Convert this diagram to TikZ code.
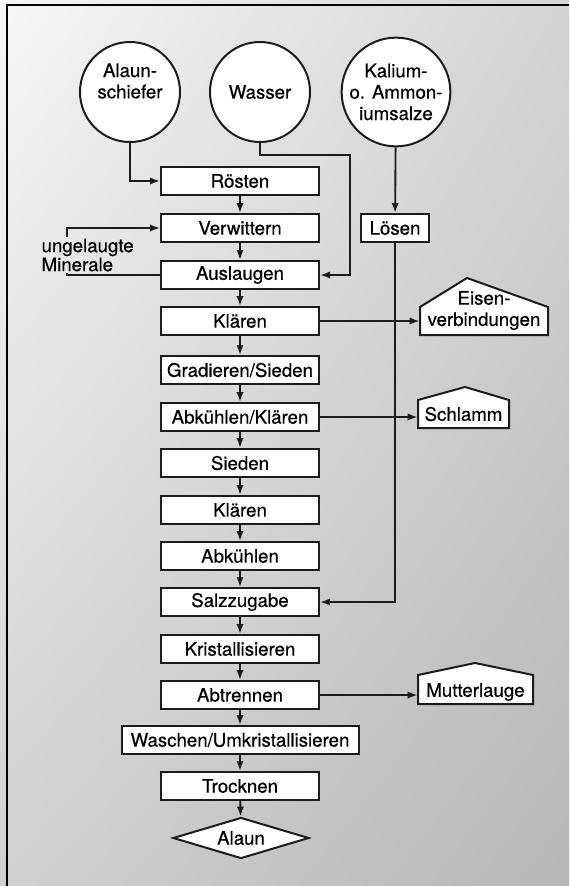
\documentclass[tikz,border=0pt]{standalone}
\usepackage{fontspec}
\setmainfont{TeX Gyre Heros}[FakeBold=0.5]
\usepackage{xcolor}
\usepackage{tikz}
\usetikzlibrary{shapes.geometric,arrows.meta,shadings}

\definecolor{ink}{RGB}{28,28,28}
\definecolor{paperA}{RGB}{246,246,244}
\definecolor{paperB}{RGB}{212,212,210}
\definecolor{paperC}{RGB}{208,208,206}
\definecolor{paperD}{RGB}{182,182,180}

\begin{document}
\begin{tikzpicture}[x=0.75pt,y=0.75pt,yscale=-1,xscale=1,
		font=\fontsize{14}{16}\selectfont,
		stepbox/.style={draw=ink,fill=white,line width=1.5pt,inner sep=0pt,minimum width=118.5pt,minimum height=21pt},
		source/.style={circle,draw=ink,fill=white,line width=1.5pt,inner sep=0pt,minimum size=75pt,align=center},
		waste/.style={inner sep=0pt,align=center},
		wasteline/.style={draw=ink,fill=white,line width=1.5pt,line join=miter},
		arr/.style={draw=ink,line width=1.4pt,-{Latex[length=7.5pt,width=5.5pt]}},
		plain/.style={draw=ink,line width=1.4pt}]
		\useasboundingbox (0,0) rectangle (569,886);
		
		%Paper
		\shade[upper left=paperA,upper right=paperB,lower left=paperC,lower right=paperD] (0,0) rectangle (569,886);
		\draw[line width=1.5pt] (7,886) -- (7,5) -- (569,5);
		
		%Shape: Circle
		\node[source] (alaunschiefer) at (130,92) {};
		\node[source] (wasser) at (260,92) {Wasser};
		\node[source] (kalium) at (396,92) {Kalium-\\o. Ammon-\\iumsalze};
		% Text Node
		\node[inner sep=0pt,align=center] (alaunschiefertext) at (130,81) {Alaun-\\schiefer};
		
		%Flowchart: Process
		\node[stepbox] (roesten) at (240,181) {Rösten};
		\node[stepbox] (verwittern) at (240,228) {Verwittern};
		\node[stepbox] (auslaugen) at (240,275) {Auslaugen};
		\node[stepbox] (klaeren1) at (240,321) {Klären};
		\node[stepbox] (gradieren) at (240,370) {Gradieren/Sieden};
		\node[stepbox] (abkuehlklaer) at (240,417) {Abkühlen/Klären};
		\node[stepbox] (sieden) at (240,463) {Sieden};
		\node[stepbox] (klaeren2) at (240,510) {Klären};
		\node[stepbox] (abkuehlen) at (240,556) {Abkühlen};
		\node[stepbox] (salz) at (240,602) {Salzzugabe};
		\node[stepbox] (kristall) at (240,649) {Kristallisieren};
		\node[stepbox] (abtrennen) at (240,695) {Abtrennen};
		\node[stepbox,minimum width=177.75pt] (waschen) at (240,740) {Waschen/Umkristallisieren};
		\node[stepbox] (trocknen) at (240,786) {Trocknen};
		\node[stepbox,minimum width=51pt] (loesen) at (395,228) {Lösen};
		
		%Flowchart: Decision
		\node[diamond,draw=ink,fill=white,line width=1.5pt,inner sep=0pt,aspect=3.3,minimum width=102pt,minimum height=30.75pt] (alaun) at (241,838) {Alaun};
		
		%Shape: Pentagon
		\draw[wasteline] (420,335) -- (548,335) -- (548,307) -- (467,278) -- (420,307) -- cycle;
		\draw[wasteline] (418,428) -- (509,428) -- (509,400) -- (465,387) -- (418,400) -- cycle;
		\draw[wasteline] (418,704) -- (533,704) -- (533,675) -- (475,663) -- (418,675) -- cycle;
		% Text Node
		\node[waste,minimum width=96pt] (eisen) at (484,310.5) {Eisen-\\verbindungen};
		\node[waste,minimum width=68.25pt] (schlamm) at (463.5,414) {Schlamm};
		\node[waste,minimum width=86.25pt] (mutter) at (475.5,692) {Mutterlauge};
		% Text Node
		\node[inner sep=1pt,anchor=west,align=left,font=\fontsize{14}{13}\selectfont] (minerale) at (40,255) {ungelaugte\\Minerale};
		
		%Straight Lines
		\foreach \a/\b in {roesten/verwittern,verwittern/auslaugen,auslaugen/klaeren1,klaeren1/gradieren,
			gradieren/abkuehlklaer,abkuehlklaer/sieden,sieden/klaeren2,klaeren2/abkuehlen,abkuehlen/salz,
			salz/kristall,kristall/abtrennen,abtrennen/waschen,waschen/trocknen,trocknen/alaun}
		\draw[arr] (\a) -- (\b);
		
		\coordinate (wknick) at (350,155);
		\coordinate (mknick) at (67,0);
		\draw[arr] (alaunschiefer.south) |- (roesten.west);
		\draw[arr] (wasser.south) |- (wknick) |- (auslaugen.east);
		\draw[arr] (kalium) -- (loesen);
		\draw[arr] (loesen.south) |- (salz.east);
		\draw[plain] (auslaugen.west) -| (minerale.south -| mknick);
		\draw[arr] (minerale.north -| mknick) |- (verwittern.west);
		\draw[arr] (klaeren1.east) -- (klaeren1.east -| eisen.west);
		\draw[arr] (abkuehlklaer.east) -- (abkuehlklaer.east -| schlamm.west);
		\draw[arr] (abtrennen.east) -- (abtrennen.east -| mutter.west);
		
\end{tikzpicture}
\end{document}
